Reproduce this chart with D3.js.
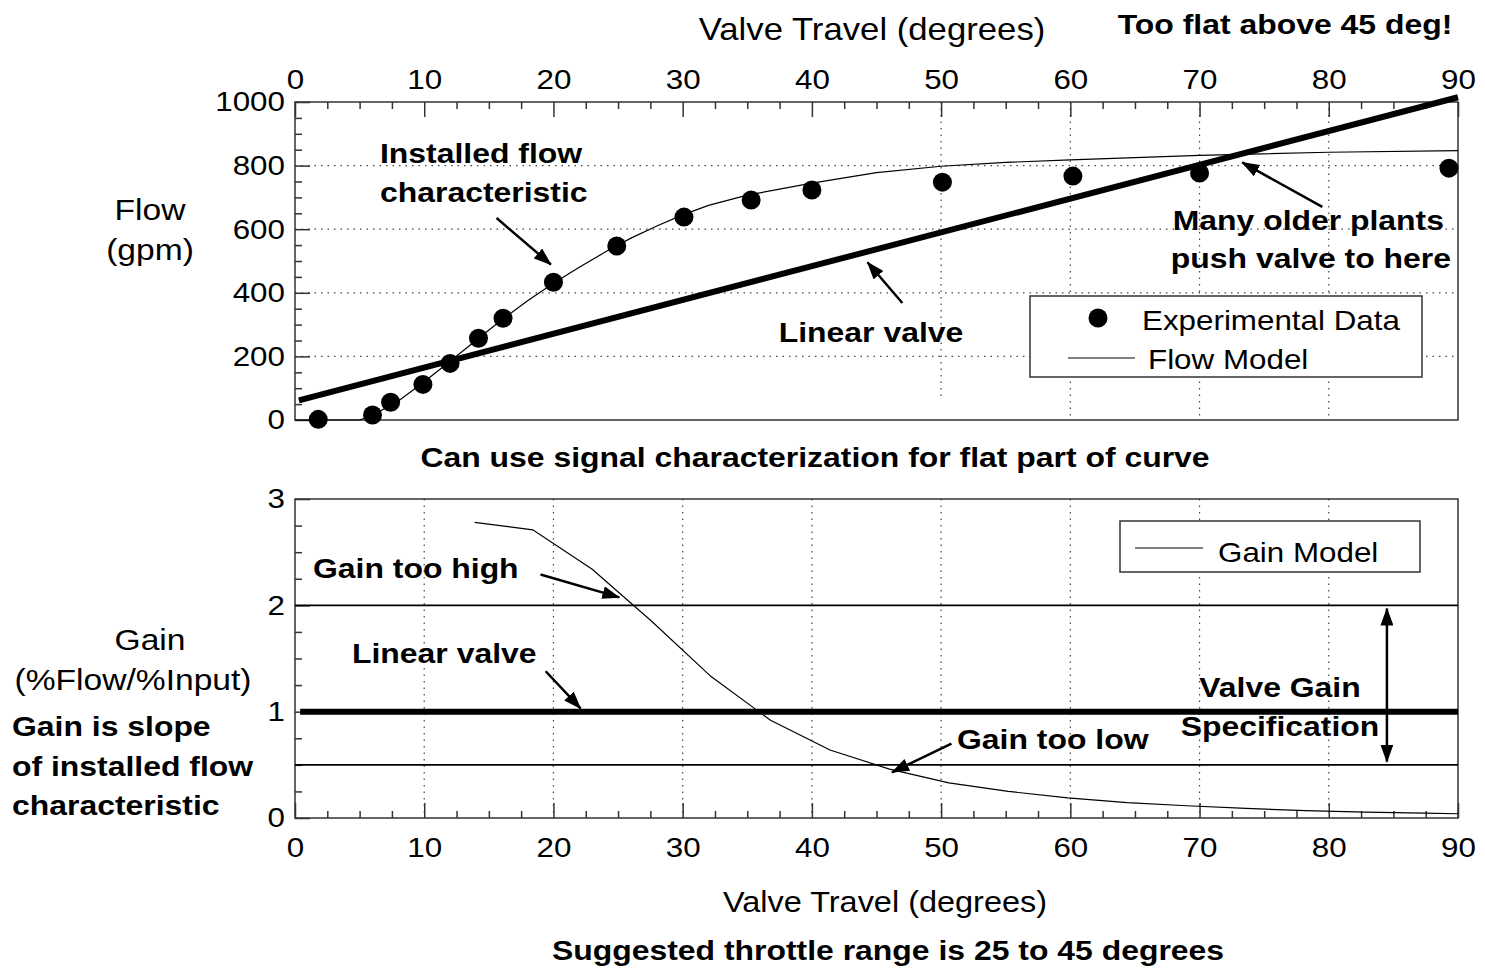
<!DOCTYPE html>
<html><head><meta charset="utf-8">
<script src="https://cdn.jsdelivr.net/npm/d3@7"></script>
<style>
body{margin:0;background:#fff}
svg{display:block}
text{font-family:"Liberation Sans",Arial,Helvetica,sans-serif;fill:#000}
</style>
</head><body>
<svg id="c" width="1485" height="969"></svg>
<script>
// ---------- data ----------
const xTicks = [0,10,20,30,40,50,60,70,80,90];
const flowTicks = [0,200,400,600,800,1000];
const gainTicks = [0,1,2,3];
const topGridDeg = [50,60,70,80];
const bottomGridDeg = [10,20,30,40,50,60,70,80];

const expDeg  = [1.8,6.0,7.4,9.9,12.0,14.2,16.1,20.0,24.9,30.1,35.3,40.0,50.1,60.2,70.0,89.3];
const expFlow = [2,16,56,112,178,257,320,433,547,638,692,723,748,767,777,792];

const modelDeg  = [0,5,6,8,10,12,14,16,18,20,22,24,26,28,30,32,35,40,45,50,55,60,70,80,90];
const modelFlow = [0,0,15,60,120,185,250,315,375,430,480,528,572,610,645,675,707,745,778,798,810,818,832,842,847];

const linDeg  = [0.3,90];
const linFlow = [62,1015];

const gainDeg = [13.9,18.4,23.0,27.6,32.2,36.8,41.4,46.0,50.6,55.2,59.8,64.4,69.0,73.6,78.2,82.8,87.4,90];
const gainVal = [2.78,2.71,2.34,1.85,1.33,0.92,0.64,0.46,0.33,0.25,0.19,0.145,0.115,0.09,0.07,0.055,0.045,0.04];

const gainHigh = 2, gainLinear = 1, gainLow = 0.5;

// ---------- setup ----------
const SX = 1.12;
const svg = d3.select("#c");
const x  = d3.scaleLinear([0,90],[295,1458]);
const yF = d3.scaleLinear([0,1000],[420,102]);
const yG = d3.scaleLinear([0,3],[818,499]);
const FRAME = "#333";

const defs = svg.append("defs");
defs.append("marker").attr("id","ah").attr("markerUnits","userSpaceOnUse")
  .attr("viewBox","0 0 18 13").attr("markerWidth",18).attr("markerHeight",13)
  .attr("refX",17).attr("refY",6.5).attr("orient","auto-start-reverse")
  .append("path").attr("d","M0,0 L18,6.5 L0,13 Z").attr("fill","#000");

function txt(x0,y0,s,{size=28,weight="normal",anchor="start",sx=SX}={}){
  return svg.append("text").attr("transform",`translate(${x0},${y0}) scale(${sx},1)`)
    .attr("font-size",size).attr("font-weight",weight).attr("text-anchor",anchor).text(s);
}
function bold(x0,y0,s,anchor="start"){ return txt(x0,y0,s,{size:28,weight:"bold",anchor,sx:1.14}); }
function fixText(g){
  g.selectAll("text").each(function(){
    const t=d3.select(this); const tx=+t.attr("x")||0, ty=+t.attr("y")||0;
    t.attr("x",null).attr("y",null).attr("transform",`translate(${tx},${ty}) scale(${SX},1)`);
  });
}
function styleAxis(g){
  g.select(".domain").remove();
  g.selectAll("line").attr("stroke",FRAME).attr("stroke-width",1.5);
  g.selectAll("text").attr("font-size",28).attr("font-family",null).attr("fill","#000");
  fixText(g);
}
const minorX = d3.range(0,90.01,2.5).filter(v=>v%10!==0);
const fmt = d3.format("d");

// ---------- TOP PLOT ----------
const topG = svg.append("g");
topG.selectAll(".hg").data(flowTicks.filter(v=>v>0&&v<1000)).join("line")
  .attr("x1",x(0)).attr("x2",x(90)).attr("y1",d=>yF(d)).attr("y2",d=>yF(d))
  .attr("stroke","#444").attr("stroke-width",1.2).attr("stroke-dasharray","1.5,5");
topG.selectAll(".vg").data(topGridDeg).join("line")
  .attr("x1",d=>x(d)).attr("x2",d=>x(d)).attr("y1",yF(1000)).attr("y2",d=>d===50?yF(60):yF(0))
  .attr("stroke","#444").attr("stroke-width",1.2).attr("stroke-dasharray","1.5,5");
topG.append("rect").attr("x",x(0)).attr("y",yF(1000)).attr("width",x(90)-x(0)).attr("height",yF(0)-yF(1000))
  .attr("fill","none").attr("stroke",FRAME).attr("stroke-width",1.5);
topG.append("g").attr("transform",`translate(0,${yF(1000)})`)
  .call(d3.axisTop(x).tickValues(minorX).tickSize(-7).tickFormat("")).call(styleAxis);
topG.append("g").attr("transform",`translate(0,${yF(1000)})`)
  .call(d3.axisTop(x).tickValues(xTicks).tickSize(-15).tickPadding(13).tickFormat(fmt)).call(styleAxis);
topG.append("g").attr("transform",`translate(${x(0)},0)`)
  .call(d3.axisLeft(yF).tickValues(d3.range(50,1000,50).filter(v=>v%200!==0)).tickSize(-7).tickFormat("")).call(styleAxis);
topG.append("g").attr("transform",`translate(${x(0)},0)`)
  .call(d3.axisLeft(yF).tickValues(flowTicks).tickSize(-15).tickPadding(10).tickFormat(fmt)).call(styleAxis);

topG.append("path").datum(d3.zip(modelDeg,modelFlow))
  .attr("d",d3.line().x(d=>x(d[0])).y(d=>yF(d[1])))
  .attr("fill","none").attr("stroke","#000").attr("stroke-width",1.2);
topG.append("path").datum(d3.zip(linDeg,linFlow))
  .attr("d",d3.line().x(d=>x(d[0])).y(d=>yF(d[1])))
  .attr("fill","none").attr("stroke","#000").attr("stroke-width",6);
topG.selectAll(".pt").data(d3.zip(expDeg,expFlow)).join("circle")
  .attr("cx",d=>x(d[0])).attr("cy",d=>yF(d[1])).attr("r",9.5).attr("fill","#000");

// legend
svg.append("rect").attr("x",1030).attr("y",296).attr("width",392).attr("height",81)
  .attr("fill","#fff").attr("stroke",FRAME).attr("stroke-width",1.5);
svg.append("circle").attr("cx",1098).attr("cy",318).attr("r",9.5).attr("fill","#000");
txt(1142,330,"Experimental Data");
svg.append("line").attr("x1",1068).attr("x2",1135).attr("y1",358).attr("y2",358).attr("stroke","#000").attr("stroke-width",1.2);
txt(1148,369,"Flow Model");

function arrow(g, a, b, sx, sy, both=false){
  const l = g.append("line").attr("x1",sx(a[0])).attr("y1",sy(a[1])).attr("x2",sx(b[0])).attr("y2",sy(b[1]))
    .attr("stroke","#000").attr("stroke-width",2.5).attr("marker-end","url(#ah)");
  if(both) l.attr("marker-start","url(#ah)");
}
arrow(svg,[15.6,635],[19.8,489],x,yF);
arrow(svg,[47.0,368],[44.3,496],x,yF);
arrow(svg,[79.5,670],[73.3,810],x,yF);

// ---------- BOTTOM PLOT ----------
const botG = svg.append("g");
botG.selectAll(".vg").data(bottomGridDeg).join("line")
  .attr("x1",d=>x(d)).attr("x2",d=>x(d)).attr("y1",yG(3)).attr("y2",yG(0))
  .attr("stroke","#444").attr("stroke-width",1.2).attr("stroke-dasharray","1.5,5");
botG.append("rect").attr("x",x(0)).attr("y",yG(3)).attr("width",x(90)-x(0)).attr("height",yG(0)-yG(3))
  .attr("fill","none").attr("stroke",FRAME).attr("stroke-width",1.5);
botG.append("g").attr("transform",`translate(0,${yG(0)})`)
  .call(d3.axisBottom(x).tickValues(minorX).tickSize(-7).tickFormat("")).call(styleAxis);
botG.append("g").attr("transform",`translate(0,${yG(0)})`)
  .call(d3.axisBottom(x).tickValues(xTicks).tickSize(-15).tickPadding(19).tickFormat(fmt)).call(styleAxis);
botG.append("g").attr("transform",`translate(${x(0)},0)`)
  .call(d3.axisLeft(yG).tickValues(d3.range(0.25,3,0.25).filter(v=>v%1!==0)).tickSize(-7).tickFormat("")).call(styleAxis);
botG.append("g").attr("transform",`translate(${x(0)},0)`)
  .call(d3.axisLeft(yG).tickValues(gainTicks).tickSize(-15).tickPadding(10).tickFormat(fmt)).call(styleAxis);

botG.append("line").attr("x1",x(0)).attr("x2",x(90)).attr("y1",yG(gainHigh)).attr("y2",yG(gainHigh)).attr("stroke","#000").attr("stroke-width",1.8);
botG.append("line").attr("x1",x(0)).attr("x2",x(90)).attr("y1",yG(gainLow)).attr("y2",yG(gainLow)).attr("stroke","#000").attr("stroke-width",1.8);
botG.append("line").attr("x1",x(0.4)).attr("x2",x(90)).attr("y1",yG(gainLinear)).attr("y2",yG(gainLinear)).attr("stroke","#000").attr("stroke-width",6);
botG.append("path").datum(d3.zip(gainDeg,gainVal))
  .attr("d",d3.line().x(d=>x(d[0])).y(d=>yG(d[1])))
  .attr("fill","none").attr("stroke","#000").attr("stroke-width",1.2);

svg.append("rect").attr("x",1120).attr("y",521).attr("width",300).attr("height",51)
  .attr("fill","#fff").attr("stroke",FRAME).attr("stroke-width",1.5);
svg.append("line").attr("x1",1135).attr("x2",1203).attr("y1",548).attr("y2",548).attr("stroke","#000").attr("stroke-width",1.2);
txt(1218,562,"Gain Model");

arrow(svg,[19.0,2.29],[25.1,2.075],x,yG);
arrow(svg,[19.4,1.38],[22.1,1.03],x,yG);
arrow(svg,[50.8,0.70],[46.2,0.43],x,yG);
arrow(svg,[84.5,1.97],[84.5,0.53],x,yG,true);

// ---------- TEXT ----------
txt(872,40,"Valve Travel (degrees)",{size:31});
svg.select("text:last-of-type");
d3.select(svg.node().lastChild).attr("text-anchor","middle");
bold(1285,34,"Too flat above 45 deg!","middle");
txt(150,220,"Flow",{size:30,anchor:"middle"});
txt(150,260,"(gpm)",{size:30,anchor:"middle"});
bold(380,163,"Installed flow");
bold(380,202,"characteristic");
bold(871,342,"Linear valve","middle");
bold(1444,230,"Many older plants","end");
bold(1451,268,"push valve to here","end");
bold(815,467,"Can use signal characterization for flat part of curve","middle");

bold(313,578,"Gain too high");
bold(352,663,"Linear valve");
bold(957,749,"Gain too low");
bold(1280,697,"Valve Gain","middle");
bold(1280,736,"Specification","middle");
txt(150,650,"Gain",{size:30,anchor:"middle"});
txt(133,690,"(%Flow/%Input)",{size:30,anchor:"middle"});
bold(12,736,"Gain is slope");
bold(12,776,"of installed flow");
bold(12,815,"characteristic");
txt(885,912,"Valve Travel (degrees)",{size:29,anchor:"middle"});
bold(888,960,"Suggested throttle range is 25 to 45 degrees","middle");
</script>
</body></html>
